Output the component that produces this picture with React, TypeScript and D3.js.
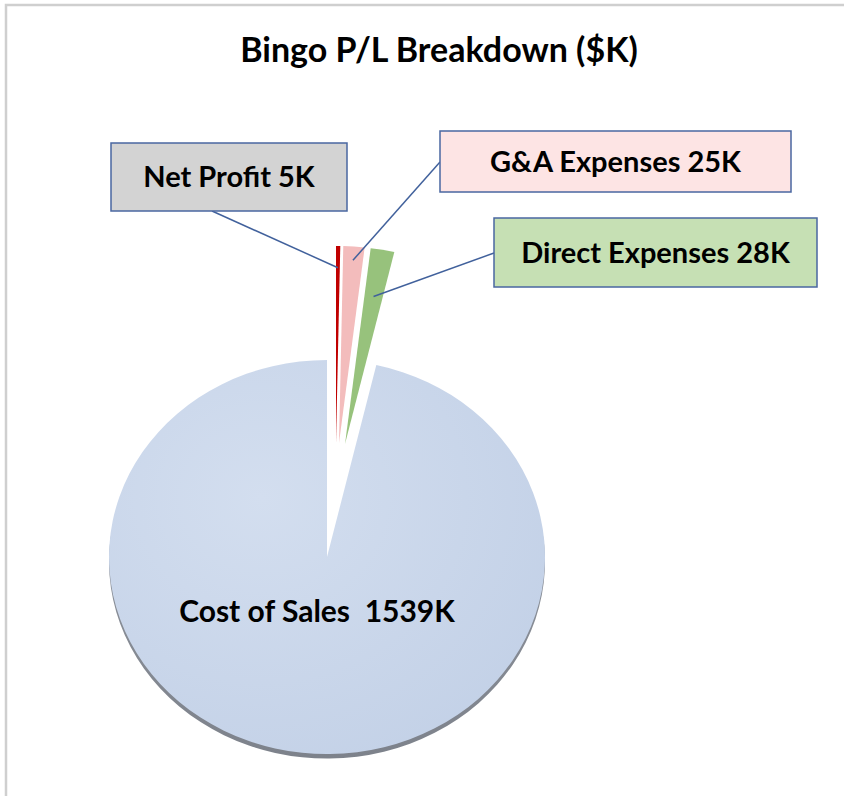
import React from "react";
import * as d3 from "d3";

// P/L parts in $K, in the order Excel draws them clockwise from 12 o'clock
const labels = ["Net Profit", "G&A Expenses", "Direct Expenses", "Cost of Sales"];
const values = [5, 25, 28, 1539];
const labelTexts = ["Net Profit 5K", "G&A Expenses 25K", "Direct Expenses 28K", "Cost of Sales  1539K"];

const title = "Bingo P/L Breakdown ($K)";

const W = 844;
const H = 796;
const cx = 327;
const cy = 557;
const R = 218;
const squash = 0.904; // slight 3D tilt of the pie

const colors = ["#c00000", "#f3bcbc", "#97c27c", "#c9d6ea"];
// explode offsets (in pie space, before the squash)
const explode = [
  [9, -126],
  [12, -126],
  [18, -125],
  [0, 0],
];
// callout boxes: rect + where the leader line leaves the box, anchor radius on the slice
const boxes = [
  { x: 111, y: 143, w: 236, h: 68, fill: "#d3d3d3", lx: 212, ly: 211, ar: 0.89 },
  { x: 440, y: 131, w: 351, h: 61, fill: "#fde4e4", lx: 440, ly: 162, ar: 0.93 },
  { x: 494, y: 218, w: 323, h: 69, fill: "#c6e0b4", lx: 494, ly: 253, ar: 0.76 },
];

const font = "Lato, 'Open Sans', sans-serif";

export default function App() {
  const arcs = d3.pie<number>().sort(null).startAngle(0).endAngle(2 * Math.PI)(values);
  const arc = d3.arc<d3.PieArcDatum<number>>().innerRadius(0).outerRadius(R);

  // screen position of a point on slice i at fraction f of the radius, on the mid angle
  const anchor = (i: number, f: number) => {
    const a = (arcs[i].startAngle + arcs[i].endAngle) / 2;
    const px = Math.sin(a) * R * f + explode[i][0];
    const py = -Math.cos(a) * R * f + explode[i][1];
    return [cx + px, cy + py * squash];
  };

  const big = arcs[3];

  return (
    <svg
      width={W}
      height={H}
      style={{ position: "absolute", left: 0, top: 0, background: "#fff" }}
      fontFamily={font}
    >
      <defs>
        <radialGradient id="blueFill" cx="35%" cy="35%" r="75%">
          <stop offset="0%" stopColor="#d3deef" />
          <stop offset="100%" stopColor="#c3d1e7" />
        </radialGradient>
        <linearGradient id="rim" x1="0" y1="0" x2="0" y2="1">
          <stop offset="0%" stopColor="#9a9fa8" />
          <stop offset="100%" stopColor="#7d828b" />
        </linearGradient>
      </defs>

      <rect x={6} y={5} width={W + 10} height={H + 10} fill="none" stroke="#cfcfcf" strokeWidth={2.5} />

      <text x={439} y={62} textAnchor="middle" fontSize={34} fontWeight={700} fill="#000">
        {title}
      </text>

      <g transform={`translate(${cx},${cy}) scale(1,${squash})`}>
        {/* depth rim under the big slice */}
        <path d={arc(big) || ""} transform="translate(0,5)" fill="url(#rim)" />
        {arcs.map((d, i) => (
          <path
            key={labels[i]}
            d={arc(d) || ""}
            transform={`translate(${explode[i][0]},${explode[i][1]})`}
            fill={i === 3 ? "url(#blueFill)" : colors[i]}
          />
        ))}
      </g>

      {boxes.map((b, i) => {
        const [ax, ay] = anchor(i, b.ar);
        return (
          <g key={labels[i]}>
            <line x1={b.lx} y1={b.ly} x2={ax} y2={ay} stroke="#41619c" strokeWidth={1.5} />
            <rect x={b.x} y={b.y} width={b.w} height={b.h} fill={b.fill} stroke="#4a67a1" strokeWidth={1.5} />
            <text
              x={b.x + b.w / 2}
              y={b.y + b.h / 2 + 10}
              textAnchor="middle"
              fontSize={29}
              fontWeight={700}
              fill="#000"
            >
              {labelTexts[i]}
            </text>
          </g>
        );
      })}

      <text x={317} y={622} textAnchor="middle" fontSize={30} fontWeight={700} fill="#000" style={{ whiteSpace: "pre" }}>
        {labelTexts[3]}
      </text>
    </svg>
  );
}
